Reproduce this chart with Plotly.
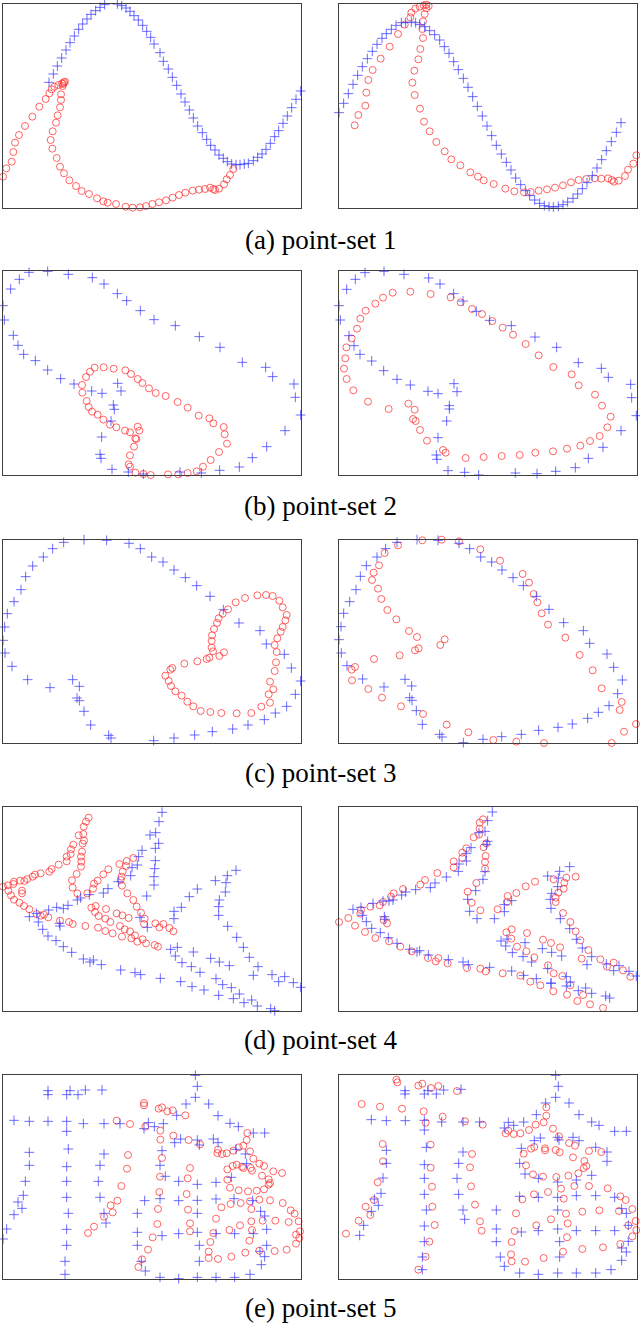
import plotly.graph_objects as go

W, H = 640, 1323

# ---------------- data (arbitrary units) ----------------
P1L_PLUS = [(147,247),(160,222),(172,198),(185,174),(198,150),(210,128),(223,108),(236,88),(248,72),(261,57),(273,43),(287,32),(300,22),(314,14),(326,11),(340,10),(352,12),(365,17),(378,24),(390,34),(402,47),(415,60),(428,76),(440,94),(452,112),(462,132),(480,158),(490,184),(505,207),(517,232),(530,256),(543,282),(555,306),(568,330),(580,354),(593,378),(607,398),(620,418),(632,436),(645,450),(657,465),(670,475),(682,485),(695,492),(708,494),(720,494),(733,492),(745,490),(760,482),(773,472),(786,462),(798,448),(811,430),(824,410),(836,392),(849,370),(862,348),(875,323),(888,298),(902,273)]
P1L_CIRC = [(9,530),(19,505),(35,485),(40,456),(45,428),(57,405),(75,378),(97,350),(118,320),(137,297),(148,280),(155,268),(163,260),(175,255),(186,250),(192,247),(195,245),(190,252),(188,258),(183,283),(183,300),(180,322),(173,346),(168,368),(158,394),(152,420),(157,446),(170,474),(180,500),(192,520),(208,541),(228,558),(245,573),(267,582),(291,595),(310,604),(323,608),(348,612),(377,620),(398,623),(420,622),(438,618),(457,612),(477,607),(498,601),(518,593),(537,585),(556,578),(578,572),(597,569),(615,567),(630,563),(640,567),(645,570),(657,566),(672,553),(680,538),(690,525),(700,507)]
P1R_PLUS = [(18,338),(32,310),(46,281),(60,253),(74,226),(88,200),(103,176),(118,154),(132,133),(147,115),(160,101),(175,88),(189,76),(205,68),(218,68),(235,66),(248,68),(260,74),(275,80),(290,92),(305,104),(320,120),(334,140),(348,160),(362,185),(376,209),(391,235),(405,262),(419,290),(433,319),(448,348),(462,378),(476,407),(490,436),(505,462),(520,487),(534,510),(548,534),(563,554),(578,572),(590,587),(605,600),(620,610),(634,617),(648,620),(661,621),(676,619),(690,614),(704,606),(720,595),(734,582),(748,566),(762,548),(778,527),(792,504),(806,479),(820,452),(835,425),(850,397),(864,368)]
P1R_CIRC = [(65,376),(76,345),(97,317),(100,278),(106,240),(119,210),(143,176),(170,140),(195,102),(215,74),(232,52),(235,38),(247,26),(260,20),(272,16),(280,14),(285,11),(287,18),(280,25),(275,42),(270,64),(268,87),(270,114),(262,147),(256,178),(244,212),(238,248),(245,285),(261,326),(273,365),(290,394),(310,426),(335,454),(355,478),(382,496),(412,517),(435,530),(452,541),(482,552),(517,566),(544,574),(573,577),(593,576),(617,572),(642,568),(666,563),(690,556),(714,547),(737,540),(760,537),(785,535),(805,536),(825,535),(836,540),(843,545),(857,542),(876,528),(885,509),(901,491),(910,466)]

P2L_PLUS = [(9,122),(13,165),(40,211),(54,241),(71,268),(106,287),(143,315),(182,341),(222,357),(275,378),(306,385),(353,355),(363,378),(340,420),(343,433),(333,468),(305,516),(300,568),(303,580),(336,613),(385,621),(430,627),(540,621),(604,624),(659,616),(718,606),(757,578),(800,545),(855,497),(902,450),(886,397),(882,357),(818,335),(797,307),(727,292),(660,247),(598,215),(526,182),(462,164),(421,137),(380,107),(352,86),(312,57),(277,38),(205,28),(143,19),(87,22),(58,43),(32,72)]
P2L_CIRC = [(246,360),(247,383),(260,408),(266,426),(276,440),(293,449),(310,464),(330,479),(349,487),(375,497),(390,502),(413,485),(418,497),(406,520),(409,522),(402,545),(390,571),(386,598),(390,605),(406,623),(430,627),(452,630),(477,631),(504,628),(535,628),(563,624),(590,619),(609,605),(632,585),(657,561),(681,536),(674,508),(671,486),(640,475),(628,460),(596,452),(563,428),(533,411),(497,393),(467,384),(447,370),(427,354),(413,342),(393,327),(376,316),(341,311),(311,307),(284,308),(270,320),(258,336)]
P2R_PLUS = [(18,122),(22,165),(41,73),(67,43),(96,23),(153,19),(213,28),(287,39),(321,57),(362,86),(390,108),(430,139),(470,166),(535,182),(606,216),(671,247),(736,293),(805,310),(826,337),(893,358),(896,398),(910,452),(864,497),(810,547),(766,580),(727,608),(668,619),(612,626),(547,624),(493,632),(437,630),(395,622),(345,617),(312,583),(310,570),(315,518),(341,468),(349,432),(349,422),(372,380),(363,356),(315,386),(285,379),(232,360),(192,343),(152,317),(116,288),(81,268),(63,242),(48,212)]
P2R_CIRC = [(56,220),(40,247),(37,280),(33,311),(41,342),(61,376),(105,410),(167,432),(226,416),(245,434),(240,462),(248,468),(261,495),(282,527),(330,555),(338,563),(398,579),(452,576),(506,573),(560,570),(607,563),(660,559),(702,551),(742,542),(771,528),(800,513),(823,487),(833,455),(807,422),(786,389),(737,361),(716,328),(661,306),(617,271),(578,237),(540,209),(509,188),(478,168),(447,147),(417,132),(383,112),(353,97),(293,87),(232,80),(179,83),(150,98),(127,116),(98,137),(82,161),(72,191)]

P3L_PLUS = [(9,322),(14,282),(22,242),(42,206),(63,170),(77,131),(98,99),(130,72),(158,47),(191,28),(252,20),(320,22),(387,31),(421,47),(455,72),(489,87),(522,111),(556,134),(590,158),(630,190),(670,230),(717,270),(780,293),(799,333),(853,364),(874,405),(902,444),(886,484),(860,520),(826,540),(793,560),(744,576),(698,588),(637,596),(584,606),(522,615),(461,623),(402,631),(333,615),(326,607),(272,576),(252,535),(238,503),(231,495),(238,460),(218,440),(150,464),(83,440),(36,400),(15,360)]
P3L_CIRC = [(496,428),(506,444),(513,459),(526,475),(545,488),(562,506),(580,520),(602,534),(631,537),(664,540),(710,541),(754,540),(784,521),(810,509),(806,484),(820,469),(810,446),(824,414),(828,388),(830,357),(824,336),(832,316),(842,296),(848,282),(856,262),(860,246),(848,223),(838,203),(818,189),(798,186),(772,187),(735,195),(707,208),(684,229),(668,242),(656,256),(651,270),(642,288),(636,307),(635,324),(635,344),(639,355),(658,369),(672,358),(628,374),(620,378),(592,385),(553,392),(517,405),(511,410)]
P3R_PLUS = [(18,320),(24,281),(32,241),(50,206),(69,170),(82,130),(100,98),(132,72),(158,47),(192,28),(252,20),(315,22),(378,31),(410,47),(443,72),(476,87),(507,111),(540,134),(571,158),(610,190),(648,229),(692,269),(751,293),(770,331),(822,363),(842,403),(868,441),(854,482),(828,518),(796,538),(764,556),(718,573),(675,583),(617,592),(565,604),(506,611),(450,619),(391,629),(327,612),(320,604),(268,574),(250,533),(237,502),(230,494),(236,459),(216,439),(153,462),(89,438),(42,398),(25,360)]
P3R_CIRC = [(195,37),(155,60),(138,97),(122,119),(117,141),(135,167),(145,198),(163,231),(190,259),(228,294),(252,312),(257,346),(246,352),(200,367),(123,378),(66,402),(56,410),(57,442),(106,468),(147,494),(204,520),(270,543),(341,575),(406,598),(481,621),(550,626),(633,630),(738,631),(836,630),(873,596),(909,573),(860,531),(866,507),(806,466),(779,412),(740,366),(697,314),(645,275),(626,241),(613,208),(602,183),(588,149),(569,123),(501,83),(442,49),(378,25),(326,20),(268,22),(335,319),(322,336)]

P4L_PLUS = [(498,18),(486,37),(477,65),(467,98),(450,105),(476,130),(466,145),(426,151),(416,170),(466,182),(412,195),(396,203),(464,206),(392,227),(462,230),(355,245),(462,255),(324,266),(310,279),(268,284),(242,294),(232,300),(204,316),(190,326),(170,322),(146,330),(110,340),(88,350),(115,366),(128,388),(144,408),(168,422),(190,440),(215,457),(250,477),(270,486),(280,480),(304,494),(362,510),(405,518),(422,524),(481,535),(542,545),(576,560),(612,570),(656,586),(700,596),(718,582),(732,608),(755,600),(772,618),(812,626),(824,632),(440,288),(568,290),(592,267),(544,322),(522,334),(522,356),(420,352),(442,382),(512,448),(532,442),(526,468),(546,488),(580,456),(574,500),(600,517),(632,475),(658,486),(688,497),(648,536),(668,554),(694,563),(708,211),(682,227),(646,242),(678,248),(676,276),(658,300),(656,320),(656,346),(683,379),(710,412),(730,442),(748,472),(774,500),(760,526),(816,524),(836,545),(854,530),(880,548),(902,562),(180,378),(178,370)]
P4L_CIRC = [(266,53),(258,65),(251,80),(250,102),(236,106),(252,122),(248,131),(220,134),(213,148),(246,155),(212,162),(200,170),(243,170),(200,184),(244,185),(176,194),(243,200),(155,207),(148,215),(122,220),(105,224),(98,230),(82,237),(73,243),(60,242),(42,245),(40,252),(24,256),(9,260),(25,272),(66,272),(66,280),(33,286),(42,299),(58,308),(72,318),(88,328),(110,342),(122,347),(132,344),(145,352),(230,222),(216,241),(218,263),(232,280),(262,280),(279,266),(282,251),(293,242),(310,223),(325,208),(358,192),(380,183),(400,174),(378,198),(368,215),(365,230),(362,240),(366,257),(382,280),(400,300),(410,320),(423,338),(434,356),(432,372),(466,370),(478,382),(490,372),(508,384),(520,394),(274,323),(287,318),(285,336),(296,348),(318,327),(316,356),(331,366),(350,340),(367,346),(386,354),(180,362),(207,366),(218,372),(256,378),(294,383),(316,393),(338,400),(360,378),(366,410),(374,388),(390,394),(394,415),(405,406),(412,425),(428,418),(438,430),(464,435),(474,440)]
P4R_PLUS = [(490,18),(478,36),(464,62),(456,94),(438,98),(464,124),(460,134),(414,143),(400,160),(400,183),(378,192),(376,214),(340,231),(306,249),(292,263),(248,269),(218,276),(206,285),(180,300),(168,303),(150,303),(120,310),(84,322),(60,328),(88,346),(100,365),(116,385),(142,398),(166,413),(192,430),(230,448),(252,456),(260,452),(286,465),(346,479),(390,486),(406,494),(470,502),(536,513),(572,526),(610,536),(654,549),(700,558),(712,546),(736,572),(758,564),(776,580),(818,588),(830,594),(456,215),(450,238),(428,272),(404,298),(410,334),(432,356),(484,356),(514,314),(514,335),(536,302),(504,423),(522,417),(518,438),(538,458),(576,428),(570,470),(596,486),(628,446),(656,457),(686,468),(644,506),(654,550),(700,530),(710,200),(680,214),(644,228),(676,234),(674,260),(656,280),(652,298),(654,325),(682,356),(710,386),(730,418),(748,444),(776,470),(762,494),(820,492),(842,512),(858,497),(888,514),(910,528),(154,350),(156,358)]
P4R_CIRC = [(18,366),(46,354),(66,377),(96,396),(127,414),(168,424),(202,440),(236,454),(285,474),(308,484),(316,474),(344,490),(402,504),(442,506),(458,514),(509,520),(562,527),(592,545),(622,556),(661,574),(702,584),(733,603),(771,613),(810,624),(826,634),(84,330),(82,341),(112,320),(140,316),(150,306),(174,290),(182,280),(210,267),(262,254),(276,240),(313,219),(362,202),(362,184),(388,174),(388,158),(400,145),(422,112),(438,104),(440,86),(440,68),(450,58),(152,360),(162,370),(460,130),(452,142),(458,168),(456,186),(456,206),(430,249),(404,275),(416,308),(442,331),(494,328),(522,306),(524,288),(550,279),(578,259),(606,245),(662,238),(700,233),(728,230),(694,248),(692,266),(676,278),(668,293),(668,306),(690,339),(712,366),(728,394),(742,421),(766,450),(746,476),(802,478),(822,500),(842,488),(870,511),(892,530),(520,397),(536,388),(535,416),(582,399),(552,440),(580,454),(604,472),(630,419),(654,429),(681,442),(645,496),(662,520),(688,528),(712,556),(750,585)]

P5L_PLUS = [(9,513),(20,483),(42,440),(66,421),(54,402),(70,382),(76,340),(88,292),(88,253),(42,157),(88,160),(144,160),(200,160),(250,167),(312,167),(360,167),(144,68),(144,80),(200,80),(210,68),(234,80),(256,66),(306,66),(200,190),(205,243),(200,296),(200,340),(200,388),(205,436),(200,484),(200,532),(195,580),(195,619),(312,258),(300,292),(295,340),(300,388),(312,436),(318,465),(412,436),(412,493),(412,532),(424,580),(436,609),(434,398),(480,628),(486,503),(480,392),(496,325),(480,292),(486,248),(490,167),(463,176),(445,164),(432,182),(536,632),(536,497),(536,398),(536,340),(524,224),(542,213),(530,142),(558,108),(586,22),(592,55),(586,88),(626,108),(654,143),(592,216),(598,231),(640,213),(654,224),(592,349),(592,397),(592,436),(592,493),(598,532),(598,580),(592,628),(690,166),(715,176),(760,195),(794,195),(708,244),(736,258),(740,287),(694,328),(648,343),(648,393),(702,392),(758,398),(782,430),(794,444),(800,484),(760,497),(704,497),(648,497),(800,532),(780,550),(794,566),(784,590),(750,619),(704,628),(648,628)]
P5L_CIRC = [(432,105),(432,112),(476,122),(486,118),(502,130),(518,127),(556,142),(350,158),(390,168),(436,176),(481,188),(481,215),(520,203),(566,216),(600,229),(384,261),(486,270),(381,302),(570,300),(480,326),(563,331),(364,354),(478,372),(560,378),(352,398),(332,412),(338,433),(312,446),(474,423),(564,425),(282,476),(264,495),(472,468),(570,466),(570,490),(458,508),(444,545),(426,574),(415,597),(640,495),(631,522),(626,551),(626,570),(654,573),(694,566),(736,554),(778,548),(824,549),(860,545),(648,452),(688,486),(720,472),(754,460),(756,486),(748,518),(788,458),(826,458),(866,462),(896,460),(888,500),(900,490),(898,510),(888,527),(872,427),(884,437),(848,405),(810,397),(778,395),(750,400),(722,405),(692,408),(664,418),(754,423),(690,359),(716,367),(744,370),(770,368),(792,364),(806,350),(810,345),(806,334),(786,323),(756,308),(752,300),(730,300),(726,296),(710,290),(698,294),(682,304),(682,335),(792,294),(778,287),(760,272),(750,250),(740,216),(742,195),(730,233),(716,238),(700,248),(680,256),(666,258),(652,255),(654,245),(820,310),(846,315)]
P5R_PLUS = [(80,502),(92,472),(115,430),(136,412),(124,393),(144,376),(150,330),(160,286),(160,247),(115,155),(160,158),(217,158),(274,157),(326,162),(390,162),(440,162),(216,68),(216,78),(274,78),(285,68),(310,78),(332,66),(384,64),(274,186),(280,238),(274,290),(274,331),(274,379),(280,426),(274,474),(274,521),(268,567),(268,605),(390,252),(377,286),(372,331),(377,379),(390,426),(395,454),(490,426),(490,483),(490,521),(502,567),(514,595),(560,615),(565,492),(560,385),(576,318),(560,286),(565,241),(572,162),(542,172),(526,163),(514,180),(616,619),(616,488),(616,388),(616,331),(604,218),(622,210),(610,140),(638,105),(668,22),(676,55),(668,88),(708,105),(738,140),(674,208),(678,216),(720,208),(738,218),(674,342),(674,388),(674,426),(674,483),(680,521),(680,567),(674,615),(776,162),(798,172),(845,190),(880,190),(788,238),(822,252),(822,280),(776,322),(730,336),(730,383),(788,383),(845,388),(866,422),(880,436),(886,472),(845,488),(788,488),(730,488),(886,520),(866,540),(880,552),(866,577),(834,605),(788,615),(730,615)]
P5R_CIRC = [(190,35),(193,43),(256,53),(268,47),(294,60),(316,54),(372,69),(86,108),(141,116),(207,122),(272,130),(278,164),(329,146),(396,160),(449,170),(149,228),(293,230),(417,258),(150,280),(293,299),(411,298),(134,343),(297,356),(414,355),(123,396),(98,416),(112,441),(77,458),(298,416),(426,410),(39,497),(17,522),(305,471),(441,460),(446,488),(289,521),(278,566),(256,605),(242,633),(549,436),(545,489),(536,522),(534,559),(536,580),(576,581),(632,570),(690,551),(748,543),(810,538),(862,528),(568,394),(610,472),(654,454),(699,437),(704,466),(702,508),(748,431),(799,427),(858,429),(898,423),(886,472),(908,459),(910,486),(898,505),(878,396),(862,385),(824,361),(768,354),(724,354),(684,362),(692,392),(645,372),(603,379),(630,326),(670,327),(706,323),(736,316),(752,300),(760,294),(754,279),(720,268),(680,253),(636,247),(636,241),(604,237),(594,242),(572,257),(579,292),(600,319),(768,249),(805,252),(708,225),(726,233),(678,205),(660,182),(632,163),(640,143),(640,118),(608,170),(588,186),(562,196),(542,198),(518,196),(526,188),(668,246)]

CAPTIONS = ["(a) point-set 1", "(b) point-set 2", "(c) point-set 3", "(d) point-set 4", "(e) point-set 5"]

ROWS = [
    (P1L_PLUS, P1L_CIRC, P1R_PLUS, P1R_CIRC),
    (P2L_PLUS, P2L_CIRC, P2R_PLUS, P2R_CIRC),
    (P3L_PLUS, P3L_CIRC, P3R_PLUS, P3R_CIRC),
    (P4L_PLUS, P4L_CIRC, P4R_PLUS, P4R_CIRC),
    (P5L_PLUS, P5L_CIRC, P5R_PLUS, P5R_CIRC),
]

# ---------------- layout geometry (pixels) ----------------
ROW_OFF = [0, 265, 533, 800, 1068]
ROW_YF = [(12, 625), (19, 630), (20, 630), (22, 632), (22, 632)]
COL_OFF = [0, 333]
COL_XF = [(9, 902), (18, 912)]
CAP_Y = [240, 506, 773, 1040, 1308]

BLUE = "rgba(60,60,255,0.75)"
RED = "rgba(255,50,50,0.75)"

fig = go.Figure()
layout = dict(width=W, height=H, margin=dict(l=0, r=0, t=0, b=0),
              paper_bgcolor="white", plot_bgcolor="white", showlegend=False)

k = 0
for r, row in enumerate(ROWS):
    for c in range(2):
        k += 1
        plus = row[2 * c]
        circ = row[2 * c + 1]
        xs = "x" if k == 1 else f"x{k}"
        ys = "y" if k == 1 else f"y{k}"
        fig.add_trace(go.Scatter(x=[p[0] for p in circ], y=[p[1] for p in circ], mode="markers",
                                 xaxis=xs, yaxis=ys, cliponaxis=False,
                                 marker=dict(symbol="circle-open", size=7, color=RED,
                                             line=dict(width=1, color=RED))))
        fig.add_trace(go.Scatter(x=[p[0] for p in plus], y=[p[1] for p in plus], mode="markers",
                                 xaxis=xs, yaxis=ys, cliponaxis=False,
                                 marker=dict(symbol="cross-thin", size=7, color=BLUE,
                                             line=dict(width=1, color=BLUE))))
        xl, xr = COL_XF[c]
        yt, yb = ROW_YF[r]
        px0 = COL_OFF[c] + xl / 3
        px1 = COL_OFF[c] + xr / 3
        py0 = ROW_OFF[r] + yt / 3
        py1 = ROW_OFF[r] + yb / 3
        ax = dict(showgrid=False, zeroline=False, showticklabels=False, ticks="",
                  showline=True, mirror=True, linecolor="#404040", linewidth=1.2)
        layout["xaxis" if k == 1 else f"xaxis{k}"] = dict(ax, range=[xl, xr], domain=[px0 / W, px1 / W],
                                                           anchor=ys)
        layout["yaxis" if k == 1 else f"yaxis{k}"] = dict(ax, range=[yb, yt],
                                                           domain=[1 - py1 / H, 1 - py0 / H], anchor=xs)

annotations = []
for r, cap in enumerate(CAPTIONS):
    annotations.append(dict(text=cap, x=0.5, y=1 - CAP_Y[r] / H, xref="paper", yref="paper",
                            xanchor="center", yanchor="middle", showarrow=False,
                            font=dict(family="Liberation Serif", size=27, color="black")))
layout["annotations"] = annotations
fig.update_layout(**layout)
fig.write_html("out.html", config={"displayModeBar": False},
               post_script="document.body.style.margin='0';document.body.style.padding='0';")
